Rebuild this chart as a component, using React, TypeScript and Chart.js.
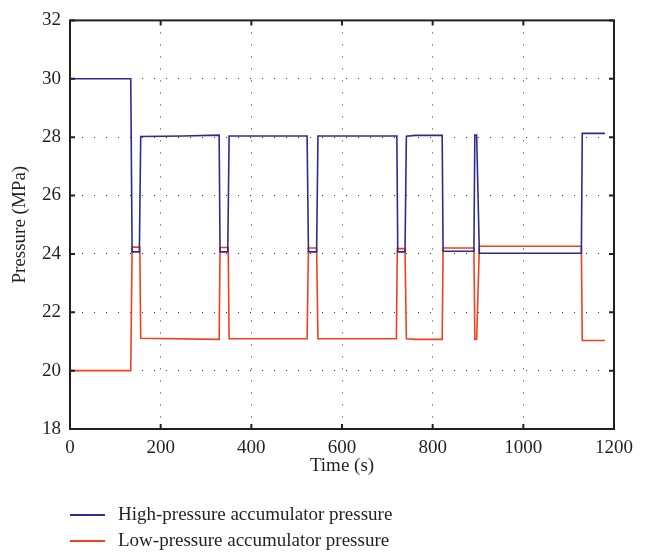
import React, { useEffect, useRef } from "react";
import { Chart, registerables } from "chart.js";

Chart.register(...registerables);

// ---- data ----
const highTime = [0, 134, 137, 153, 156, 250, 329, 331, 348, 351, 523, 526, 544, 547, 721, 723, 739, 742, 762, 821, 823, 891, 893, 897, 903, 1128, 1130, 1180];
const highPressure = [30.0, 30.0, 24.07, 24.07, 28.02, 28.04, 28.07, 24.07, 24.07, 28.04, 28.04, 24.07, 24.07, 28.04, 28.04, 24.07, 24.07, 28.03, 28.06, 28.06, 24.09, 24.09, 28.07, 28.07, 24.02, 24.02, 28.13, 28.13];

const lowTime = [0, 134, 137, 154, 156, 329, 331, 349, 351, 523, 526, 544, 547, 720, 722, 739, 742, 762, 821, 823, 891, 893, 897, 903, 1128, 1130, 1180];
const lowPressure = [20.0, 20.0, 24.23, 24.23, 21.11, 21.07, 24.22, 24.22, 21.09, 21.09, 24.2, 24.2, 21.09, 21.09, 24.18, 24.18, 21.09, 21.07, 21.07, 24.2, 24.2, 21.07, 21.07, 24.26, 24.26, 21.03, 21.03];

const xTicks = [0, 200, 400, 600, 800, 1000, 1200];
const yTicks = [18, 20, 22, 24, 26, 28, 30, 32];

const seriesLabels = ["High-pressure accumulator pressure", "Low-pressure accumulator pressure"];
const seriesColors = ["#2e2b8f", "#f0401e"];
const xTitle = "Time (s)";
const yTitle = "Pressure (MPa)";

const FONT = "'Liberation Serif', 'Times New Roman', serif";
const TEXT = "#231f20";

function toPoints(xs: number[], ys: number[]) {
  return xs.map((x, i) => ({ x, y: ys[i] }));
}

const framePlugin = {
  id: "frameTicks",
  afterDatasetsDraw(chart: any) {
    const { ctx, chartArea } = chart;
    const { left, right, top, bottom } = chartArea;
    const xs = chart.scales.x;
    const ys = chart.scales.y;
    ctx.save();
    ctx.strokeStyle = TEXT;
    ctx.lineWidth = 2;
    ctx.beginPath();
    const len = 5;
    xTicks.forEach((v) => {
      const px = xs.getPixelForValue(v);
      ctx.moveTo(px, bottom);
      ctx.lineTo(px, bottom - len);
      ctx.moveTo(px, top);
      ctx.lineTo(px, top + len);
    });
    yTicks.forEach((v) => {
      const py = ys.getPixelForValue(v);
      ctx.moveTo(left, py);
      ctx.lineTo(left + len, py);
      ctx.moveTo(right, py);
      ctx.lineTo(right - len, py);
    });
    ctx.stroke();
    ctx.strokeRect(left, top, right - left, bottom - top);
    ctx.restore();
  },
};

const legendPlugin = {
  id: "customLegend",
  afterDraw(chart: any) {
    const { ctx } = chart;
    ctx.save();
    ctx.font = `19px ${FONT}`;
    ctx.textBaseline = "middle";
    ctx.textAlign = "left";
    const rows = [515, 541];
    chart.data.datasets.forEach((ds: any, i: number) => {
      const y = rows[i];
      ctx.strokeStyle = ds.borderColor;
      ctx.lineWidth = 2;
      ctx.beginPath();
      ctx.moveTo(70, y);
      ctx.lineTo(105, y);
      ctx.stroke();
      ctx.fillStyle = TEXT;
      ctx.fillText(ds.label, 118, y);
    });
    ctx.restore();
  },
};

export default function App() {
  const ref = useRef<HTMLCanvasElement | null>(null);

  useEffect(() => {
    if (!ref.current) return;
    const chart = new Chart(ref.current, {
      type: "line",
      data: {
        datasets: [
          {
            label: seriesLabels[0],
            data: toPoints(highTime, highPressure),
            borderColor: seriesColors[0],
            backgroundColor: seriesColors[0],
            borderWidth: 1.6,
            pointRadius: 0,
            tension: 0,
            fill: false,
          },
          {
            label: seriesLabels[1],
            data: toPoints(lowTime, lowPressure),
            borderColor: seriesColors[1],
            backgroundColor: seriesColors[1],
            borderWidth: 1.6,
            pointRadius: 0,
            tension: 0,
            fill: false,
          },
        ],
      },
      options: {
        animation: false,
        responsive: false,
        devicePixelRatio: 1,
        layout: { padding: { top: 18, right: 34, left: 0, bottom: 72 } },
        plugins: { legend: { display: false }, tooltip: { enabled: false } },
        scales: {
          x: {
            type: "linear",
            min: 0,
            max: 1200,
            afterBuildTicks: (s: any) => {
              s.ticks = xTicks.map((v) => ({ value: v }));
            },
            afterFit: (s: any) => {
              s.height = 52;
            },
            ticks: {
              font: { family: FONT, size: 19 },
              color: TEXT,
              padding: 8,
              maxRotation: 0,
              autoSkip: false,
              callback: (v: any) => String(v),
            },
            grid: { color: "#333333", lineWidth: 1, drawTicks: false },
            border: { display: false, dash: [1, 11] },
            title: {
              display: true,
              text: xTitle,
              font: { family: FONT, size: 19 },
              color: TEXT,
              padding: 4,
            },
          },
          y: {
            type: "linear",
            min: 18,
            max: 32,
            afterBuildTicks: (s: any) => {
              s.ticks = yTicks.map((v) => ({ value: v }));
            },
            afterFit: (s: any) => {
              s.width = 70;
            },
            ticks: {
              font: { family: FONT, size: 19 },
              color: TEXT,
              padding: 9,
              autoSkip: false,
              callback: (v: any) => String(v),
            },
            grid: { color: "#333333", lineWidth: 1, drawTicks: false },
            border: { display: false, dash: [1, 11] },
            title: {
              display: true,
              text: yTitle,
              font: { family: FONT, size: 19 },
              color: TEXT,
              padding: { top: 9, bottom: 4 },
            },
          },
        },
      },
      plugins: [framePlugin, legendPlugin],
    } as any);
    return () => chart.destroy();
  }, []);

  return (
    <div style={{ position: "fixed", left: 0, top: 0, width: 648, height: 553, background: "#fff" }}>
      <canvas ref={ref} width={648} height={553} />
    </div>
  );
}
